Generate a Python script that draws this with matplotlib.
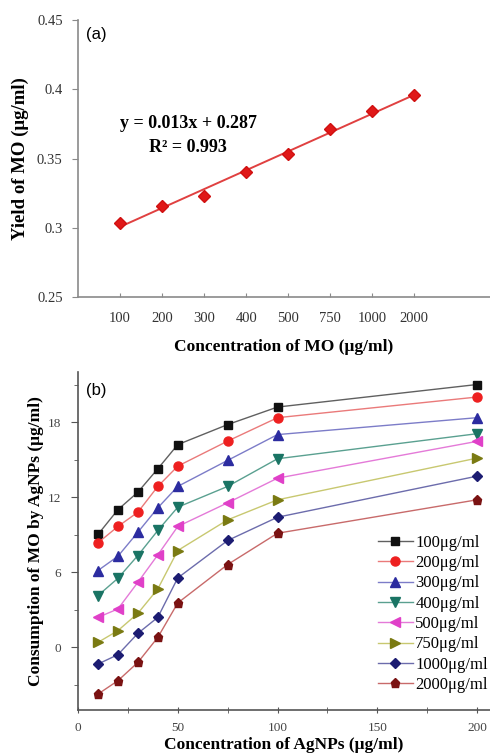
import numpy as np
import matplotlib
matplotlib.use("Agg")
import matplotlib.pyplot as plt
from matplotlib.ticker import MultipleLocator

# ---- data: panel (a) ----
mo_labels = ["100", "200", "300", "400", "500", "750", "1000", "2000"]
mo_yield = [0.3036, 0.3159, 0.3231, 0.340, 0.353, 0.371, 0.384, 0.396]

# ---- data: panel (b) ----
agnp_conc = [10, 20, 30, 40, 50, 75, 100, 200]
series_names = ["100μg/ml", "200μg/ml", "300μg/ml", "400μg/ml",
                "500μg/ml", "750μg/ml", "1000μg/ml", "2000μg/ml"]
s100 = [9.02, 11.0, 12.4, 14.27, 16.2, 17.8, 19.2, 21.0]
s200 = [8.35, 9.66, 10.8, 12.86, 14.48, 16.48, 18.35, 20.0]
s300 = [6.14, 7.28, 9.2, 11.15, 12.86, 14.94, 17.0, 18.35]
s400 = [4.14, 5.52, 7.34, 9.34, 11.2, 12.86, 15.07, 17.07]
s500 = [2.4, 3.07, 5.2, 7.39, 9.66, 11.55, 13.52, 16.46]
s750 = [0.4, 1.34, 2.72, 4.67, 7.74, 10.19, 11.79, 15.12]
s1000 = [-1.33, -0.58, 1.12, 2.4, 5.55, 8.54, 10.4, 13.68]
s2000 = [-3.73, -2.66, -1.2, 0.8, 3.55, 6.62, 9.12, 11.79]
series_vals = [s100, s200, s300, s400, s500, s750, s1000, s2000]

# ---- styles ----
marker_colors = ["#111111", "#ee2020", "#2c2ca0", "#1a7464", "#e040c8",
                 "#7a7a12", "#1c1c72", "#7a1212"]
line_colors = ["#606060", "#ea7a7a", "#7c7cc8", "#5aa090", "#e47ad8",
               "#c8c870", "#6c6cac", "#c86a6a"]
markers = ["s", "o", "^", "v", "<", ">", "D", "p"]
msizes = [5.5, 6.5, 6.5, 6.5, 6.5, 6.5, 5.5, 6.5]

W, H = 490, 755
fig = plt.figure(figsize=(W / 100, H / 100), dpi=100)
serif = ["Liberation Serif", "DejaVu Serif"]
sans = ["Liberation Sans", "DejaVu Sans"]
spine_gray = "#8a8a8a"

def px(x0, y_top, x1, y_bot):
    return [x0 / W, 1 - y_bot / H, (x1 - x0) / W, (y_bot - y_top) / H]

# ===== panel (a) =====
ax1 = fig.add_axes(px(78, 20, 490, 297))
xpos = np.arange(1, len(mo_labels) + 1)
coef = np.polyfit(xpos, mo_yield, 1)
ax1.plot(xpos, np.polyval(coef, xpos), color="#e04040", lw=1.4, zorder=2)
ax1.plot(xpos, mo_yield, ls="none", marker="D", ms=6.5, color="#e01818",
         mec="#d01010", zorder=3)
ax1.set_xlim(0, 9.8)
ax1.set_ylim(0.25, 0.45)
ax1.set_yticks([0.25, 0.3, 0.35, 0.4, 0.45])
ax1.set_yticklabels(["0.25", "0.3", "0.35", "0.4", "0.45"])
ax1.set_xticks(xpos)
ax1.set_xticklabels(mo_labels)
for s in ["top", "right"]:
    ax1.spines[s].set_visible(False)
for s in ["left", "bottom"]:
    ax1.spines[s].set_color(spine_gray)
    ax1.spines[s].set_linewidth(1.2)
ax1.tick_params(axis="y", direction="out", length=4, color=spine_gray,
                labelsize=10.5, pad=7, labelcolor="#333333")
ax1.tick_params(axis="x", direction="in", length=3, color=spine_gray,
                labelsize=10.5, pad=11, labelcolor="#333333")
for lab in ax1.get_xticklabels() + ax1.get_yticklabels():
    lab.set_family(serif)
ax1.set_xlabel("Concentration of MO (μg/ml)", family=serif, fontweight="bold",
               fontsize=12.5, labelpad=10)
ax1.set_ylabel("Yield of MO (μg/ml)", family=serif, fontweight="bold",
               fontsize=13.5, labelpad=6)
fig.text(86 / W, 1 - 35 / H, "(a)", family=sans, fontsize=12,
         va="center", ha="left")
fig.text(188 / W, 1 - 123 / H, "y = 0.013x + 0.287", family=serif,
         fontweight="bold", fontsize=13, ha="center", va="center")
fig.text(188 / W, 1 - 147 / H, "R² = 0.993", family=serif,
         fontweight="bold", fontsize=13, ha="center", va="center")

# ===== panel (b) =====
ax2 = fig.add_axes(px(78, 372, 490, 710))
for name, vals, mc, lc, mk, ms in zip(series_names, series_vals, marker_colors,
                                      line_colors, markers, msizes):
    ax2.plot(agnp_conc, vals, color=lc, lw=1.0, marker=mk, ms=ms,
             mfc=mc, mec=mc, label=name)
ax2.set_xlim(0, 206.5)
ax2.set_ylim(-5, 22)
ax2.xaxis.set_major_locator(MultipleLocator(50))
ax2.xaxis.set_minor_locator(MultipleLocator(25))
ax2.yaxis.set_major_locator(MultipleLocator(6))
ax2.yaxis.set_minor_locator(MultipleLocator(3))
for s in ["top", "right"]:
    ax2.spines[s].set_visible(False)
for s in ["left", "bottom"]:
    ax2.spines[s].set_color("#555555")
    ax2.spines[s].set_linewidth(1.2)
ax2.tick_params(axis="x", which="both", direction="inout", length=5,
                color="#555555", labelsize=9.5, labelcolor="#444444", pad=6)
ax2.tick_params(axis="y", which="major", direction="out", length=5,
                color="#555555", labelsize=9.5, labelcolor="#444444", pad=7)
ax2.tick_params(axis="y", which="minor", direction="out", length=3,
                color="#555555")
for lab in ax2.get_xticklabels() + ax2.get_yticklabels():
    lab.set_family(serif)
ax2.set_xlabel("Concentration of AgNPs (μg/ml)", family=serif,
               fontweight="bold", fontsize=12.5, labelpad=2)
ax2.set_ylabel("Consumption of MO by AgNPs (μg/ml)", family=serif,
               fontweight="bold", fontsize=12.5, labelpad=3)
fig.text(86 / W, 1 - 390 / H, "(b)", family=sans, fontsize=12,
         va="center", ha="left")
leg = ax2.legend(loc="upper left", bbox_to_anchor=(371 / W, 1 - 528 / H),
                 bbox_transform=fig.transFigure, frameon=False,
                 prop={"family": serif, "size": 12}, labelspacing=0.26,
                 handlelength=2.1, handletextpad=0.15, borderaxespad=0)

fig.savefig("out.png", dpi=100)
